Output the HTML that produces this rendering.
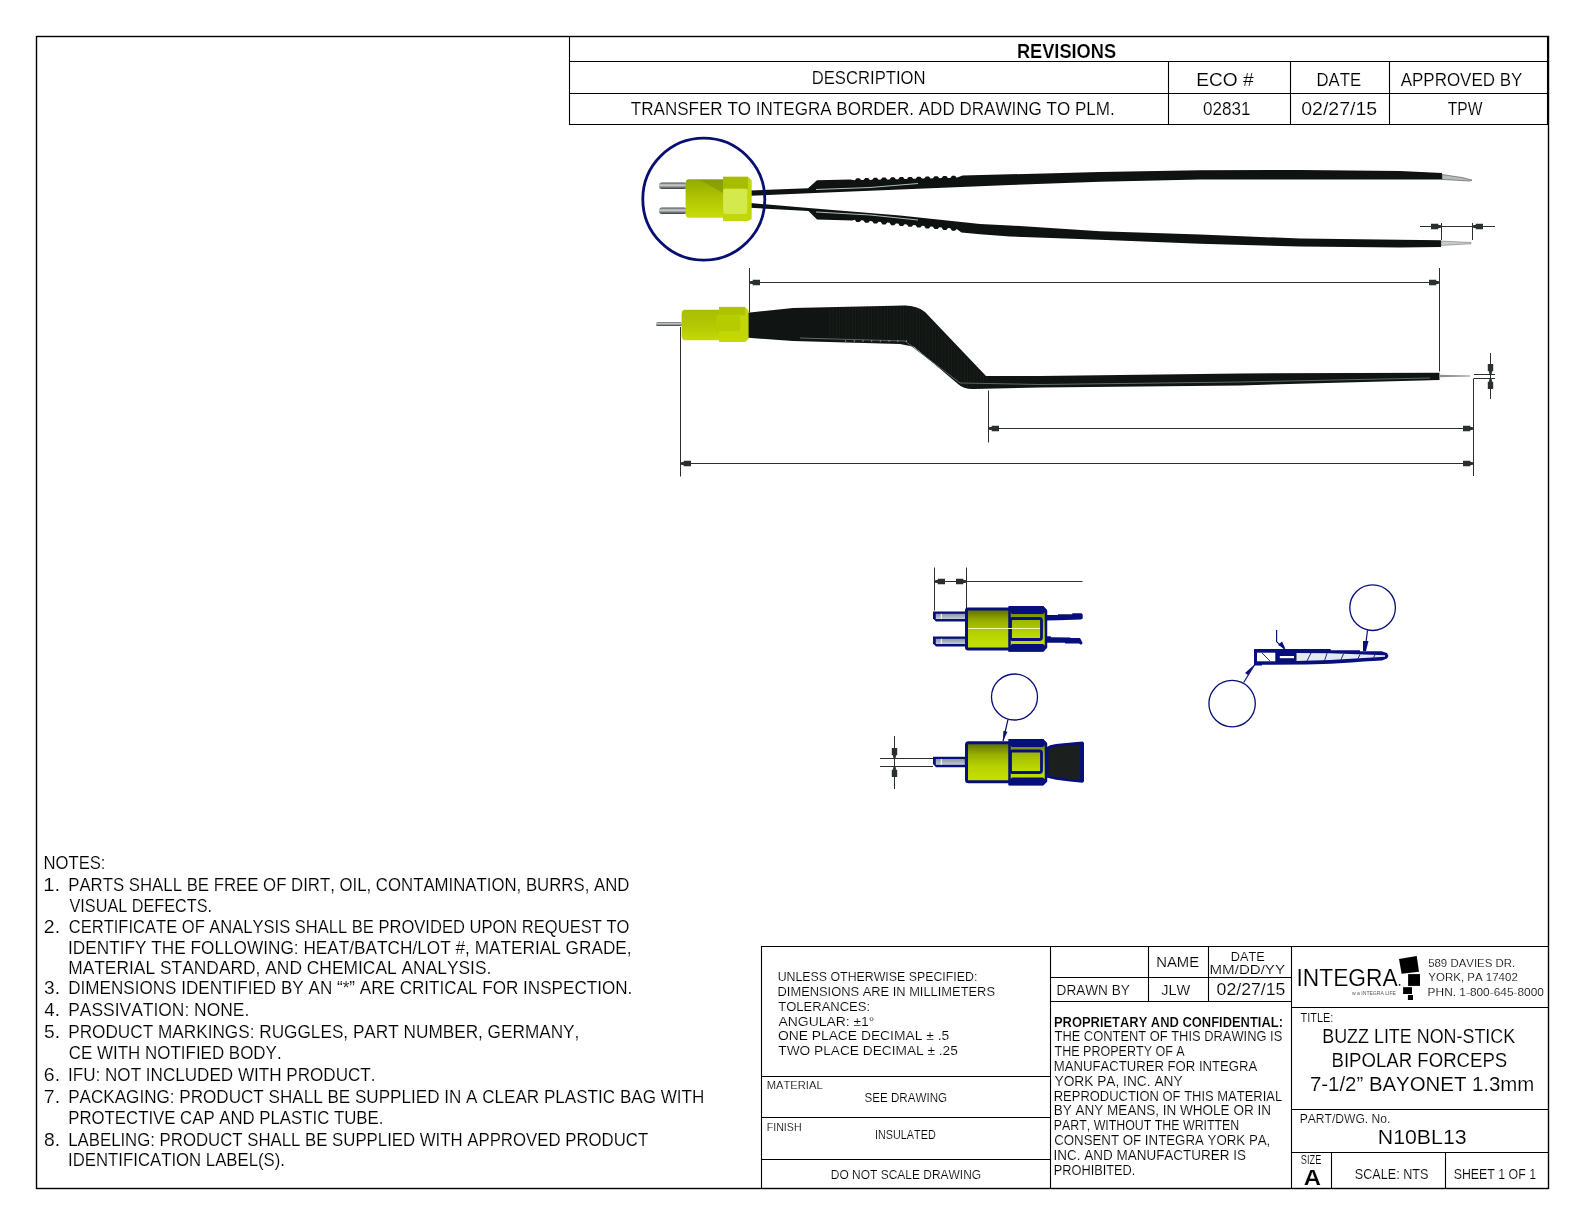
<!DOCTYPE html>
<html><head><meta charset="utf-8"><title>N10BL13</title>
<style>
html,body{margin:0;padding:0;background:#fff;}
body{width:1584px;height:1224px;overflow:hidden;}
svg{display:block;will-change:transform;}
text{font-family:"Liberation Sans",sans-serif;font-kerning:none;stroke:#fff;stroke-width:0.15px;}
</style></head>
<body>
<svg width="1584" height="1224" viewBox="0 0 1584 1224">
<rect x="0" y="0" width="1584" height="1224" fill="#fff"/>
<defs>
  <linearGradient id="ygrad" x1="0" y1="0" x2="0" y2="1">
    <stop offset="0" stop-color="#5c6c00"/>
    <stop offset="0.3" stop-color="#98b000"/>
    <stop offset="0.6" stop-color="#b6d200"/>
    <stop offset="1" stop-color="#c6e200"/>
  </linearGradient>
  <linearGradient id="ygrad2" x1="0" y1="0" x2="0" y2="1">
    <stop offset="0" stop-color="#98b400"/>
    <stop offset="1" stop-color="#c4e000"/>
  </linearGradient>
  <linearGradient id="pgrad" x1="0" y1="0" x2="0" y2="1">
    <stop offset="0" stop-color="#8e96a0"/>
    <stop offset="1" stop-color="#c3cbd8"/>
  </linearGradient>
  <linearGradient id="photoY" x1="0" y1="0" x2="0" y2="1">
    <stop offset="0" stop-color="#93aa00"/>
    <stop offset="0.5" stop-color="#b0c604"/>
    <stop offset="1" stop-color="#c8dc08"/>
  </linearGradient>
  <linearGradient id="photoY2" x1="0" y1="0" x2="0" y2="1">
    <stop offset="0" stop-color="#a8be02"/>
    <stop offset="0.5" stop-color="#b2c802"/>
    <stop offset="1" stop-color="#c4da06"/>
  </linearGradient>
  <linearGradient id="metal" x1="0" y1="0" x2="0" y2="1">
    <stop offset="0" stop-color="#4a4e4e"/>
    <stop offset="0.4" stop-color="#d0d4d4"/>
    <stop offset="1" stop-color="#333838"/>
  </linearGradient>
</defs>

<!-- ===== TOP VIEW (photo) ===== -->
<g id="topview">
  <!-- pins -->
  <rect x="659" y="182.5" width="28" height="6.5" rx="3" fill="url(#metal)"/>
  <rect x="659" y="207.5" width="28" height="6.5" rx="3" fill="url(#metal)"/>
  <!-- wires/arms -->
  <path fill="#0e1211" d="M750.0 190.5 L808.0 188.2 L817.0 180.3 L850.0 179.6 L854.8 180.3 L856.5 178.2 L859.5 178.2 L861.2 180.1 L863.5 180.1 L865.2 178.0 L868.2 178.0 L869.9 179.9 L872.2 179.8 L873.9 177.8 L876.9 177.8 L878.6 179.7 L880.8 179.6 L882.5 177.5 L885.5 177.5 L887.2 179.5 L889.5 179.4 L891.2 177.3 L894.2 177.3 L895.9 179.3 L898.2 179.2 L899.9 177.1 L902.9 177.1 L904.6 179.0 L906.9 179.0 L908.6 176.9 L911.6 176.9 L913.3 178.8 L915.6 178.8 L917.3 176.7 L920.3 176.7 L922.0 178.6 L924.2 178.5 L925.9 176.5 L928.9 176.5 L930.6 178.4 L932.9 178.3 L934.6 176.2 L937.6 176.2 L939.3 178.2 L941.6 178.1 L943.3 176.0 L946.3 176.0 L948.0 177.9 L950.3 177.9 L952.0 175.8 L955.0 175.8 L956.7 177.7 L962.5 175.6 L1010.0 174.3 L1100.0 172.1 L1200.0 170.3 L1300.0 170.0 L1400.0 171.0 L1442.0 173.0 L1442.0 179.6 L1300.0 179.5 L1200.0 179.5 L1100.0 181.7 L1010.0 185.0 L900.0 189.5 L815.0 193.0 L750.0 195.8 Z"/>
  <path fill="#0e1211" d="M750.0 203.0 L808.5 208.0 L900.0 215.5 L980.0 224.0 L1010.0 225.4 L1100.0 231.3 L1200.0 234.6 L1300.0 238.5 L1400.0 239.8 L1441.0 240.3 L1441.0 246.9 L1400.0 247.5 L1300.0 246.5 L1200.0 243.8 L1100.0 239.8 L1010.0 236.5 L980.0 234.3 L961.4 232.5 L956.7 228.9 L955.0 230.7 L952.0 230.7 L950.3 228.3 L948.0 228.1 L946.3 229.9 L943.3 229.9 L941.6 227.5 L939.3 227.3 L937.6 229.1 L934.6 229.1 L932.9 226.8 L930.6 226.5 L928.9 228.4 L925.9 228.4 L924.2 226.0 L922.0 225.8 L920.3 227.6 L917.3 227.6 L915.6 225.2 L913.3 225.0 L911.6 226.8 L908.6 226.8 L906.9 224.4 L904.6 224.2 L902.9 226.0 L899.9 226.0 L898.2 223.6 L895.9 223.4 L894.2 225.2 L891.2 225.2 L889.5 222.8 L887.2 222.6 L885.5 224.4 L882.5 224.4 L880.8 222.0 L878.6 221.8 L876.9 223.6 L873.9 223.6 L872.2 221.2 L869.9 221.0 L868.2 222.8 L865.2 222.8 L863.5 220.4 L861.2 220.2 L859.5 222.0 L856.5 222.0 L854.8 219.7 L852.3 220.6 L817.0 219.4 L808.5 210.9 L750.0 207.8 Z"/>
  <path fill="none" stroke="#c9d0cc" stroke-width="0.9" d="M816 189.5 L870 187.5 L918 183.5"/>
  <path fill="none" stroke="#c9d0cc" stroke-width="0.9" d="M816 212 L870 215 L918 220"/>
  <!-- tips -->
  <path fill="#b8bcbc" stroke="#333" stroke-width="0.5" d="M1442 174.5 L1462 177.5 L1472 180 L1470 181 L1442 179.5 Z"/>
  <path fill="#c8cccc" stroke="#444" stroke-width="0.4" d="M1441 241 L1471 242.5 L1471 243.8 L1441 245.5 Z"/>
  <!-- connector -->
  <path fill="url(#photoY)" d="M689 179.2 L724 179.2 L724 217.7 L689 217.7 Q685.6 217.7 685.6 214 L685.6 183 Q685.6 179.2 689 179.2 Z"/>
  <path fill="#7f8f06" opacity="0.55" d="M700 180 L723 180 L723 193 Z"/>
  <path fill="#c2d806" d="M723 176.8 L748 176.8 L751.7 180.5 L751.7 219 L748 221 L723 221 Z"/>
  <rect x="723" y="176.8" width="25" height="11.9" fill="#a6bc00"/>
  <rect x="723.2" y="188.7" width="24" height="25.3" rx="2" fill="#d4e94c"/>
  <!-- detail circle -->
  <circle cx="703.8" cy="199.2" r="61" fill="none" stroke="#071070" stroke-width="2.8"/>
</g>

<!-- ===== SIDE VIEW (photo) ===== -->
<g id="sideview">
  <rect x="656" y="322.3" width="26" height="3.6" rx="1.5" fill="url(#metal)"/>
  <path fill="#101412" d="M745 313 L793 308 L905 305.5 Q917 305.5 925 312 L986 376 L1040 376 L1240 373.4 L1439.5 372.7 L1439.5 380 L1240 385.4 L1040 387.5 L973 389 Q963 389 958 384 L914 346.8 L900 344 L793 341 L745 337.5 Z"/>
  <path fill="none" stroke="#5d6b63" stroke-width="1" d="M800 338 L905 341 L960 383 L1040 384.5 L1240 382 L1430 378"/>
  <clipPath id="hclip"><path d="M745 313 L793 308 L905 305.5 Q917 305.5 925 312 L986 376 L1040 376 L1240 373.4 L1439.5 372.7 L1439.5 380 L1240 385.4 L1040 387.5 L973 389 Q963 389 958 384 L914 346.8 L900 344 L793 341 L745 337.5 Z"/></clipPath>
  <g clip-path="url(#hclip)" stroke="#2f3833" stroke-width="0.6" opacity="0.55"><line x1="830.0" y1="300" x2="830.0" y2="392"/><line x1="833.2" y1="300" x2="833.2" y2="392"/><line x1="836.4" y1="300" x2="836.4" y2="392"/><line x1="839.6" y1="300" x2="839.6" y2="392"/><line x1="842.8" y1="300" x2="842.8" y2="392"/><line x1="846.0" y1="300" x2="846.0" y2="392"/><line x1="849.2" y1="300" x2="849.2" y2="392"/><line x1="852.4" y1="300" x2="852.4" y2="392"/><line x1="855.6" y1="300" x2="855.6" y2="392"/><line x1="858.8" y1="300" x2="858.8" y2="392"/><line x1="862.0" y1="300" x2="862.0" y2="392"/><line x1="865.2" y1="300" x2="865.2" y2="392"/><line x1="868.4" y1="300" x2="868.4" y2="392"/><line x1="871.6" y1="300" x2="871.6" y2="392"/><line x1="874.8" y1="300" x2="874.8" y2="392"/><line x1="878.0" y1="300" x2="878.0" y2="392"/><line x1="881.2" y1="300" x2="881.2" y2="392"/><line x1="884.4" y1="300" x2="884.4" y2="392"/><line x1="887.6" y1="300" x2="887.6" y2="392"/><line x1="890.8" y1="300" x2="890.8" y2="392"/><line x1="894.0" y1="300" x2="894.0" y2="392"/><line x1="897.2" y1="300" x2="897.2" y2="392"/><line x1="900.4" y1="300" x2="900.4" y2="392"/><line x1="903.6" y1="300" x2="903.6" y2="392"/><line x1="906.8" y1="300" x2="906.8" y2="392"/><line x1="910.0" y1="300" x2="910.0" y2="392"/><line x1="913.2" y1="300" x2="913.2" y2="392"/><line x1="916.4" y1="300" x2="916.4" y2="392"/><line x1="919.6" y1="300" x2="919.6" y2="392"/><line x1="922.8" y1="300" x2="922.8" y2="392"/><line x1="926.0" y1="300" x2="926.0" y2="392"/><line x1="929.2" y1="300" x2="929.2" y2="392"/><line x1="932.4" y1="300" x2="932.4" y2="392"/><line x1="935.6" y1="300" x2="935.6" y2="392"/><line x1="938.8" y1="300" x2="938.8" y2="392"/><line x1="942.0" y1="300" x2="942.0" y2="392"/><line x1="945.2" y1="300" x2="945.2" y2="392"/><line x1="948.4" y1="300" x2="948.4" y2="392"/><line x1="951.6" y1="300" x2="951.6" y2="392"/><line x1="954.8" y1="300" x2="954.8" y2="392"/><line x1="958.0" y1="300" x2="958.0" y2="392"/><line x1="961.2" y1="300" x2="961.2" y2="392"/><line x1="964.4" y1="300" x2="964.4" y2="392"/><line x1="967.6" y1="300" x2="967.6" y2="392"/><line x1="970.8" y1="300" x2="970.8" y2="392"/><line x1="974.0" y1="300" x2="974.0" y2="392"/><line x1="977.2" y1="300" x2="977.2" y2="392"/><line x1="980.4" y1="300" x2="980.4" y2="392"/><line x1="983.6" y1="300" x2="983.6" y2="392"/><line x1="986.8" y1="300" x2="986.8" y2="392"/></g>
  <g fill="#9aa59f" opacity="0.8"><rect x="845.0" y="340.2" width="1.2" height="1.6"/><rect x="853.7" y="340.2" width="1.2" height="1.6"/><rect x="862.4" y="340.2" width="1.2" height="1.6"/><rect x="871.1" y="340.2" width="1.2" height="1.6"/><rect x="879.8" y="340.2" width="1.2" height="1.6"/><rect x="888.5" y="340.2" width="1.2" height="1.6"/><rect x="897.2" y="340.2" width="1.2" height="1.6"/><rect x="905.9" y="340.2" width="1.2" height="1.6"/></g>
  <path fill="#8f9491" d="M1439.5 374.8 L1470 375.6 L1470 376.4 L1439.5 377.2 Z"/>
  <path fill="url(#photoY2)" d="M685 309.7 L721 309.7 L721 340.3 L685 340.3 Q681.6 340.3 681.6 335 L681.6 315 Q681.6 309.7 685 309.7 Z"/>
  <path fill="#c2d804" d="M719.1 306.9 L745 306.9 L748.6 310.5 L748.6 339 L745 342 L719.1 342 Z"/>
  <rect x="719.1" y="306.9" width="26" height="8.4" fill="#aec400"/>
  <rect x="716" y="315.6" width="24.3" height="15.7" rx="2" fill="#b4cc00"/>
</g>

<!-- ===== DIMENSIONS ===== -->
<g stroke="#2a302e" stroke-width="1" fill="none">
  <line x1="749.5" y1="268" x2="749.5" y2="312.5"/>
  <line x1="749.5" y1="282.5" x2="1439.5" y2="282.5"/>
  <line x1="1439.5" y1="268" x2="1439.5" y2="371.5"/>
  <line x1="988.5" y1="390.5" x2="988.5" y2="442.5"/>
  <line x1="988.5" y1="428.5" x2="1473.5" y2="428.5"/>
  <line x1="680.5" y1="327" x2="680.5" y2="476.5"/>
  <line x1="680.5" y1="463.5" x2="1473.5" y2="463.5"/>
  <line x1="1473.5" y1="378.5" x2="1473.5" y2="476"/>
  <line x1="1474" y1="374.5" x2="1495" y2="374.5"/>
  <line x1="1474" y1="378.5" x2="1495" y2="378.5"/>
  <line x1="1490.5" y1="353" x2="1490.5" y2="399"/>
  <line x1="1420" y1="226.5" x2="1495" y2="226.5"/>
  <line x1="1441.5" y1="223" x2="1441.5" y2="240"/>
  <line x1="1472.5" y1="223" x2="1472.5" y2="240"/>
  <line x1="934.5" y1="567.5" x2="934.5" y2="610.5"/>
  <line x1="966.5" y1="567.5" x2="966.5" y2="608.5"/>
  <line x1="934.5" y1="581.5" x2="1082.5" y2="581.5"/>
  <line x1="880" y1="758.5" x2="933" y2="758.5"/>
  <line x1="880" y1="766.5" x2="933" y2="766.5"/>
  <line x1="894.5" y1="736" x2="894.5" y2="789"/>
</g>
<g fill="#2a302e">
  <path d="M749.50 282.00 L750.70 281.10 L752.70 281.10 L752.70 279.80 L760.00 279.80 L760.00 285.20 L752.70 285.20 L752.70 283.90 L750.70 283.90 L749.50 283.00 Z"/>
  <path d="M1439.50 282.00 L1438.30 281.10 L1436.30 281.10 L1436.30 279.80 L1429.00 279.80 L1429.00 285.20 L1436.30 285.20 L1436.30 283.90 L1438.30 283.90 L1439.50 283.00 Z"/>
  <path d="M988.50 428.00 L989.70 427.10 L991.70 427.10 L991.70 425.80 L999.00 425.80 L999.00 431.20 L991.70 431.20 L991.70 429.90 L989.70 429.90 L988.50 429.00 Z"/>
  <path d="M1473.50 428.00 L1472.30 427.10 L1470.30 427.10 L1470.30 425.80 L1463.00 425.80 L1463.00 431.20 L1470.30 431.20 L1470.30 429.90 L1472.30 429.90 L1473.50 429.00 Z"/>
  <path d="M680.50 463.00 L681.70 462.10 L683.70 462.10 L683.70 460.80 L691.00 460.80 L691.00 466.20 L683.70 466.20 L683.70 464.90 L681.70 464.90 L680.50 464.00 Z"/>
  <path d="M1473.50 463.00 L1472.30 462.10 L1470.30 462.10 L1470.30 460.80 L1463.00 460.80 L1463.00 466.20 L1470.30 466.20 L1470.30 464.90 L1472.30 464.90 L1473.50 464.00 Z"/>
  <path d="M1490.00 374.50 L1489.10 373.30 L1489.10 371.30 L1487.80 371.30 L1487.80 364.00 L1493.20 364.00 L1493.20 371.30 L1491.90 371.30 L1491.90 373.30 L1491.00 374.50 Z"/>
  <path d="M1490.00 378.50 L1489.10 379.70 L1489.10 381.70 L1487.80 381.70 L1487.80 389.00 L1493.20 389.00 L1493.20 381.70 L1491.90 381.70 L1491.90 379.70 L1491.00 378.50 Z"/>
  <path d="M1441.50 226.00 L1440.30 225.10 L1438.30 225.10 L1438.30 223.80 L1431.00 223.80 L1431.00 229.20 L1438.30 229.20 L1438.30 227.90 L1440.30 227.90 L1441.50 227.00 Z"/>
  <path d="M1472.50 226.00 L1473.70 225.10 L1475.70 225.10 L1475.70 223.80 L1483.00 223.80 L1483.00 229.20 L1475.70 229.20 L1475.70 227.90 L1473.70 227.90 L1472.50 227.00 Z"/>
  <path d="M934.50 581.00 L935.70 580.10 L937.70 580.10 L937.70 578.80 L945.00 578.80 L945.00 584.20 L937.70 584.20 L937.70 582.90 L935.70 582.90 L934.50 582.00 Z"/>
  <path d="M966.50 581.00 L965.30 580.10 L963.30 580.10 L963.30 578.80 L956.00 578.80 L956.00 584.20 L963.30 584.20 L963.30 582.90 L965.30 582.90 L966.50 582.00 Z"/>
  <path d="M894.00 758.50 L893.10 757.30 L893.10 755.30 L891.80 755.30 L891.80 748.00 L897.20 748.00 L897.20 755.30 L895.90 755.30 L895.90 757.30 L895.00 758.50 Z"/>
  <path d="M894.00 766.50 L893.10 767.70 L893.10 769.70 L891.80 769.70 L891.80 777.00 L897.20 777.00 L897.20 769.70 L895.90 769.70 L895.90 767.70 L895.00 766.50 Z"/>
</g>

<!-- ===== CONNECTOR DETAIL (top) ===== -->
<g id="conn1">
  <path fill="#07107a" d="M933 611.5 L967 611.5 L967 621.5 L936 621.5 L933 618.5 Z"/>
  <rect x="935.8" y="613.8" width="29.2" height="5.2" fill="url(#pgrad)"/>
  <rect x="940.8" y="613.8" width="1" height="5.2" fill="#fff"/>
  <path fill="#07107a" d="M933 636.5 L967 636.5 L967 646.5 L936 646.5 L933 643.5 Z"/>
  <rect x="935.8" y="638.8" width="29.2" height="5.2" fill="url(#pgrad)"/>
  <rect x="940.8" y="638.8" width="1" height="5.2" fill="#fff"/>
  <!-- body -->
  <rect x="966.5" y="609" width="44" height="40" fill="url(#ygrad)" stroke="#07107a" stroke-width="3" rx="1.5"/>
  <!-- hex -->
  <path fill="url(#ygrad)" stroke="#07107a" stroke-width="2.5" d="M1009.5 607.5 L1043 607.5 L1046 611 L1046 647 L1043 650.5 L1009.5 650.5 Z"/>
  <path fill="#07107a" d="M1009 606 L1043 606 L1047 610 L1043 614 L1012 614 L1009 611 Z"/>
  <path fill="#07107a" d="M1009 651.6 L1043 651.6 L1047 647.6 L1043 644 L1012 644 L1009 647 Z"/>
  <rect x="1010.5" y="618.5" width="31" height="21" fill="url(#ygrad2)" stroke="#07107a" stroke-width="2.8" rx="2"/>
  <line x1="968" y1="628.5" x2="1040" y2="628.5" stroke="#f6f6b0" stroke-width="1"/>
  <!-- wires -->
  <path fill="#07107a" d="M1046 615 L1058 615 L1058 614.2 L1072.3 614.2 L1072.3 613.2 L1081.5 613.2 L1082.7 614.5 L1082.7 618.5 L1080.8 619.5 L1058.8 620.3 L1046 620.5 Z"/>
  <path fill="#07107a" d="M1046 636.2 L1050.8 636.2 L1050.8 637.2 L1070.5 637.5 L1070.5 638.1 L1080 638.1 L1082.7 643.3 L1081 644.8 L1079 643.6 L1065 643.6 L1065 642.8 L1046 642.8 Z"/>
</g>

<!-- ===== CONNECTOR DETAIL (bottom) ===== -->
<g id="conn2">
  <path fill="#07107a" d="M933 756.8 L966 756.8 L966 767.3 L936 767.3 L933 764 Z"/>
  <rect x="935.8" y="759" width="29" height="5.8" fill="url(#pgrad)"/>
  <rect x="940.8" y="759" width="1" height="5.8" fill="#fff"/>
  <rect x="966.5" y="742.8" width="44" height="39" fill="url(#ygrad)" stroke="#07107a" stroke-width="3" rx="2"/>
  <path fill="url(#ygrad)" stroke="#07107a" stroke-width="2.5" d="M1009.5 740.5 L1043 740.5 L1046 744 L1046 781 L1043 784 L1009.5 784 Z"/>
  <path fill="#07107a" d="M1009 739 L1043 739 L1047 743 L1043 747 L1012 747 L1009 744 Z"/>
  <path fill="#07107a" d="M1009 785.4 L1043 785.4 L1047 781.4 L1043 777.5 L1012 777.5 L1009 780.5 Z"/>
  <rect x="1010.5" y="751" width="31" height="21.5" fill="url(#ygrad2)" stroke="#07107a" stroke-width="2.8" rx="2"/>
  <path fill="#07107a" d="M1046.2 747.5 L1050 745.3 L1056 744 L1074 742.2 L1082.8 741.6 L1084 743 L1084 781.5 L1082.5 782.8 L1070 781.5 L1056 779.8 L1046.2 777.5 Z"/>
  <path fill="#1b1f1d" d="M1048.5 749.2 L1051 747.8 L1057 746.5 L1074 744.8 L1080 744.5 L1080 779.8 L1070 779 L1057 777.2 L1048.5 775.5 Z"/>
  <!-- bubble -->
  <circle cx="1014.5" cy="697" r="23" fill="none" stroke="#07107a" stroke-width="1.3"/>
  <path fill="none" stroke="#07107a" stroke-width="1.2" d="M1008 719.5 L1003 741"/>
  <path fill="#07107a" d="M1003 741.5 L1003.4 730.8 L1007.4 731.8 Z"/>
</g>

<!-- ===== CROSS SECTION ===== -->
<g id="xsec">
  <path fill="#07107a" d="M1254 649 L1330.7 649 L1330.7 650.2 L1360 650.2 L1360 651.2 L1381.6 651.2 L1387 653 L1388.5 656 L1387 658.5 L1382 660.5 L1363.7 661.5 L1351.7 662.5 L1330.7 663.8 L1306.6 664.5 L1262 664.8 L1262 665.5 L1254 665.5 Z"/>
  <path fill="#fff" d="M1257 652.7 L1275.3 652.7 L1275.3 661.3 L1257 661.3 Z"/>
  <path fill="#e4e9f1" d="M1296.5 653 L1330 653.2 L1385 655.2 L1385 656.8 L1330 660 L1296.5 661 Z"/>
  <path fill="#fff" d="M1279.8 656 L1294 656 L1294 658.2 L1279.8 658.2 Z"/>
  <g stroke="#07107a" stroke-width="0.9" fill="none">
    <line x1="1262" y1="653" x2="1270" y2="661"/>
    <line x1="1307" y1="661" x2="1311" y2="653"/>
    <line x1="1324.6" y1="660.5" x2="1327" y2="653.3"/>
    <line x1="1341" y1="659.5" x2="1343.5" y2="654"/>
    <line x1="1358" y1="658.5" x2="1360" y2="654.5"/>
    <line x1="1373.5" y1="657.5" x2="1375" y2="655"/>
  </g>
  <circle cx="1372.6" cy="607.7" r="22.8" fill="none" stroke="#07107a" stroke-width="1.3"/>
  <circle cx="1232.1" cy="703.6" r="23.2" fill="none" stroke="#07107a" stroke-width="1.3"/>
  <path fill="none" stroke="#07107a" stroke-width="1.2" d="M1367.5 630.5 L1365 650"/>
  <path fill="#07107a" d="M1363 641 L1368.5 641 L1366 651 L1363 651 Z"/>
  <path fill="none" stroke="#07107a" stroke-width="1.2" d="M1276.6 630 L1276.6 641.6 L1284.5 649"/>
  <path fill="#07107a" d="M1278 645 L1282 641.5 L1285.5 649 Z"/>
  <path fill="none" stroke="#07107a" stroke-width="1.2" d="M1243.7 682.5 L1254.5 665"/>
  <path fill="#07107a" d="M1254.5 664.5 L1248 675 L1245 673 Z"/>
</g>

<!-- ===== LOGO ===== -->
<g fill="#000">
  <path d="M1399 959.1 L1416.7 956.1 L1419 971.8 L1401.6 973.8 Z"/>
  <rect x="1408.1" y="974.1" width="11.9" height="11.8"/>
  <rect x="1403.1" y="987.2" width="8.9" height="6.8"/>
  <rect x="1407.9" y="995" width="5.1" height="5"/>
  <circle cx="1399.6" cy="984.8" r="0.9"/>
</g>
<text x="1352" y="995" font-size="4.6" textLength="44" lengthAdjust="spacingAndGlyphs" fill="#555" style="stroke:none">w  a  INTEGRA  LIFE</text>

<rect x="36.5" y="36.5" width="1512" height="1152" fill="none" stroke="#000" stroke-width="1.4"/>
<line x1="569.5" y1="61.5" x2="1548" y2="61.5" stroke="#000" stroke-width="1.1"/>
<line x1="569.5" y1="93.5" x2="1548" y2="93.5" stroke="#000" stroke-width="1.1"/>
<line x1="569.5" y1="124.5" x2="1548" y2="124.5" stroke="#000" stroke-width="1.1"/>
<line x1="569.5" y1="36" x2="569.5" y2="125" stroke="#000" stroke-width="1.1"/>
<line x1="1547.5" y1="36" x2="1547.5" y2="125" stroke="#000" stroke-width="1.1"/>
<line x1="1168.5" y1="61.5" x2="1168.5" y2="124.5" stroke="#000" stroke-width="1.1"/>
<line x1="1290.5" y1="61.5" x2="1290.5" y2="124.5" stroke="#000" stroke-width="1.1"/>
<line x1="1389.5" y1="61.5" x2="1389.5" y2="124.5" stroke="#000" stroke-width="1.1"/>
<line x1="761.5" y1="946.5" x2="1548" y2="946.5" stroke="#000" stroke-width="1.1"/>
<line x1="761.5" y1="946" x2="761.5" y2="1189" stroke="#000" stroke-width="1.1"/>
<line x1="1050.5" y1="946" x2="1050.5" y2="1189" stroke="#000" stroke-width="1.1"/>
<line x1="1291.5" y1="946" x2="1291.5" y2="1189" stroke="#000" stroke-width="1.1"/>
<line x1="761.5" y1="1076.5" x2="1050.5" y2="1076.5" stroke="#000" stroke-width="1.1"/>
<line x1="761.5" y1="1117.5" x2="1050.5" y2="1117.5" stroke="#000" stroke-width="1.1"/>
<line x1="761.5" y1="1159.5" x2="1050.5" y2="1159.5" stroke="#000" stroke-width="1.1"/>
<line x1="1050.5" y1="977.5" x2="1291.5" y2="977.5" stroke="#000" stroke-width="1.1"/>
<line x1="1050.5" y1="1001.5" x2="1291.5" y2="1001.5" stroke="#000" stroke-width="1.1"/>
<line x1="1148.5" y1="946.5" x2="1148.5" y2="1001.5" stroke="#000" stroke-width="1.1"/>
<line x1="1208.5" y1="946.5" x2="1208.5" y2="1001.5" stroke="#000" stroke-width="1.1"/>
<line x1="1291.5" y1="1007.5" x2="1548" y2="1007.5" stroke="#000" stroke-width="1.1"/>
<line x1="1291.5" y1="1109.5" x2="1548" y2="1109.5" stroke="#000" stroke-width="1.1"/>
<line x1="1291.5" y1="1152.5" x2="1548" y2="1152.5" stroke="#000" stroke-width="1.1"/>
<line x1="1331.5" y1="1152.5" x2="1331.5" y2="1188.5" stroke="#000" stroke-width="1.1"/>
<line x1="1445.5" y1="1152.5" x2="1445.5" y2="1188.5" stroke="#000" stroke-width="1.1"/>
<text x="1016.88" y="57.70" font-size="20.20" textLength="99.23" lengthAdjust="spacingAndGlyphs" font-weight="bold" fill="#000">REVISIONS</text>
<text x="811.73" y="83.70" font-size="18.75" textLength="113.82" lengthAdjust="spacingAndGlyphs" fill="#000">DESCRIPTION</text>
<text x="1196.33" y="86.10" font-size="18.90" textLength="57.36" lengthAdjust="spacingAndGlyphs" fill="#000">ECO #</text>
<text x="1316.53" y="86.10" font-size="18.90" textLength="44.59" lengthAdjust="spacingAndGlyphs" fill="#000">DATE</text>
<text x="1400.67" y="85.90" font-size="18.60" textLength="121.71" lengthAdjust="spacingAndGlyphs" fill="#000">APPROVED BY</text>
<text x="630.82" y="115.00" font-size="18.60" textLength="483.94" lengthAdjust="spacingAndGlyphs" fill="#000">TRANSFER TO INTEGRA BORDER. ADD DRAWING TO PLM.</text>
<text x="1202.93" y="115.00" font-size="18.17" textLength="47.50" lengthAdjust="spacingAndGlyphs" fill="#000">02831</text>
<text x="1301.24" y="115.00" font-size="18.17" textLength="75.88" lengthAdjust="spacingAndGlyphs" fill="#000">02/27/15</text>
<text x="1447.85" y="114.80" font-size="18.17" textLength="34.50" lengthAdjust="spacingAndGlyphs" fill="#000">TPW</text>
<text x="43.43" y="868.90" font-size="18.17" textLength="62.09" lengthAdjust="spacingAndGlyphs" fill="#000">NOTES:</text>
<text x="43.26" y="891.00" font-size="18.17" textLength="16.89" lengthAdjust="spacingAndGlyphs" fill="#000">1.</text>
<text x="68.22" y="891.00" font-size="18.17" textLength="561.18" lengthAdjust="spacingAndGlyphs" fill="#000">PARTS SHALL BE FREE OF DIRT, OIL, CONTAMINATION, BURRS, AND</text>
<text x="69.53" y="911.70" font-size="18.17" textLength="142.45" lengthAdjust="spacingAndGlyphs" fill="#000">VISUAL DEFECTS.</text>
<text x="43.82" y="933.40" font-size="18.17" textLength="16.26" lengthAdjust="spacingAndGlyphs" fill="#000">2.</text>
<text x="68.76" y="933.40" font-size="18.17" textLength="560.63" lengthAdjust="spacingAndGlyphs" fill="#000">CERTIFICATE OF ANALYSIS SHALL BE PROVIDED UPON REQUEST TO</text>
<text x="68.01" y="954.40" font-size="18.17" textLength="563.64" lengthAdjust="spacingAndGlyphs" fill="#000">IDENTIFY THE FOLLOWING: HEAT/BATCH/LOT #, MATERIAL GRADE,</text>
<text x="68.17" y="974.30" font-size="18.17" textLength="423.21" lengthAdjust="spacingAndGlyphs" fill="#000">MATERIAL STANDARD, AND CHEMICAL ANALYSIS.</text>
<text x="44.07" y="994.40" font-size="18.17" textLength="15.98" lengthAdjust="spacingAndGlyphs" fill="#000">3.</text>
<text x="68.20" y="994.40" font-size="18.17" textLength="564.16" lengthAdjust="spacingAndGlyphs" fill="#000">DIMENSIONS IDENTIFIED BY AN “*” ARE CRITICAL FOR INSPECTION.</text>
<text x="44.37" y="1015.90" font-size="18.17" textLength="15.64" lengthAdjust="spacingAndGlyphs" fill="#000">4.</text>
<text x="68.17" y="1015.90" font-size="18.17" textLength="181.12" lengthAdjust="spacingAndGlyphs" fill="#000">PASSIVATION: NONE.</text>
<text x="44.03" y="1037.50" font-size="18.17" textLength="16.02" lengthAdjust="spacingAndGlyphs" fill="#000">5.</text>
<text x="68.19" y="1037.50" font-size="18.17" textLength="511.16" lengthAdjust="spacingAndGlyphs" fill="#000">PRODUCT MARKINGS: RUGGLES, PART NUMBER, GERMANY,</text>
<text x="68.74" y="1058.50" font-size="18.17" textLength="212.91" lengthAdjust="spacingAndGlyphs" fill="#000">CE WITH NOTIFIED BODY.</text>
<text x="43.81" y="1080.60" font-size="18.17" textLength="16.27" lengthAdjust="spacingAndGlyphs" fill="#000">6.</text>
<text x="68.02" y="1080.60" font-size="18.17" textLength="307.54" lengthAdjust="spacingAndGlyphs" fill="#000">IFU: NOT INCLUDED WITH PRODUCT.</text>
<text x="43.80" y="1102.70" font-size="18.17" textLength="16.28" lengthAdjust="spacingAndGlyphs" fill="#000">7.</text>
<text x="68.20" y="1102.70" font-size="18.17" textLength="636.20" lengthAdjust="spacingAndGlyphs" fill="#000">PACKAGING: PRODUCT SHALL BE SUPPLIED IN A CLEAR PLASTIC BAG WITH</text>
<text x="68.22" y="1123.50" font-size="18.17" textLength="315.11" lengthAdjust="spacingAndGlyphs" fill="#000">PROTECTIVE CAP AND PLASTIC TUBE.</text>
<text x="43.96" y="1145.60" font-size="18.17" textLength="16.10" lengthAdjust="spacingAndGlyphs" fill="#000">8.</text>
<text x="68.22" y="1145.60" font-size="18.17" textLength="579.96" lengthAdjust="spacingAndGlyphs" fill="#000">LABELING: PRODUCT SHALL BE SUPPLIED WITH APPROVED PRODUCT</text>
<text x="68.05" y="1166.10" font-size="18.17" textLength="216.98" lengthAdjust="spacingAndGlyphs" fill="#000">IDENTIFICATION LABEL(S).</text>
<text x="777.65" y="980.80" font-size="13.08" textLength="199.68" lengthAdjust="spacingAndGlyphs" fill="#000">UNLESS OTHERWISE SPECIFIED:</text>
<text x="777.54" y="995.50" font-size="13.08" textLength="217.45" lengthAdjust="spacingAndGlyphs" fill="#000">DIMENSIONS ARE IN MILLIMETERS</text>
<text x="778.31" y="1010.50" font-size="13.08" textLength="91.78" lengthAdjust="spacingAndGlyphs" fill="#000">TOLERANCES:</text>
<text x="778.57" y="1025.50" font-size="13.08" textLength="95.86" lengthAdjust="spacingAndGlyphs" fill="#000">ANGULAR: ±1°</text>
<text x="777.95" y="1039.70" font-size="13.08" textLength="171.24" lengthAdjust="spacingAndGlyphs" fill="#000">ONE PLACE DECIMAL ± .5</text>
<text x="778.29" y="1054.70" font-size="13.08" textLength="179.58" lengthAdjust="spacingAndGlyphs" fill="#000">TWO PLACE DECIMAL ± .25</text>
<text x="766.68" y="1088.90" font-size="11.63" textLength="55.99" lengthAdjust="spacingAndGlyphs" fill="#000">MATERIAL</text>
<text x="864.47" y="1101.90" font-size="12.35" textLength="82.60" lengthAdjust="spacingAndGlyphs" fill="#000">SEE DRAWING</text>
<text x="766.73" y="1130.80" font-size="11.63" textLength="34.84" lengthAdjust="spacingAndGlyphs" fill="#000">FINISH</text>
<text x="875.00" y="1139.00" font-size="12.35" textLength="60.72" lengthAdjust="spacingAndGlyphs" fill="#000">INSULATED</text>
<text x="830.82" y="1178.90" font-size="12.65" textLength="150.28" lengthAdjust="spacingAndGlyphs" fill="#000">DO NOT SCALE DRAWING</text>
<text x="1156.18" y="967.10" font-size="13.81" textLength="42.96" lengthAdjust="spacingAndGlyphs" fill="#000">NAME</text>
<text x="1230.76" y="960.50" font-size="13.08" textLength="33.89" lengthAdjust="spacingAndGlyphs" fill="#000">DATE</text>
<text x="1209.56" y="974.20" font-size="13.52" textLength="75.47" lengthAdjust="spacingAndGlyphs" fill="#000">MM/DD/YY</text>
<text x="1056.59" y="994.70" font-size="13.81" textLength="73.21" lengthAdjust="spacingAndGlyphs" fill="#000">DRAWN BY</text>
<text x="1161.27" y="994.70" font-size="13.81" textLength="28.98" lengthAdjust="spacingAndGlyphs" fill="#000">JLW</text>
<text x="1216.61" y="994.70" font-size="16.72" textLength="68.83" lengthAdjust="spacingAndGlyphs" fill="#000">02/27/15</text>
<text x="1053.94" y="1026.80" font-size="13.81" textLength="229.01" lengthAdjust="spacingAndGlyphs" font-weight="bold" fill="#000">PROPRIETARY AND CONFIDENTIAL:</text>
<text x="1054.51" y="1041.00" font-size="13.81" textLength="227.78" lengthAdjust="spacingAndGlyphs" fill="#000">THE CONTENT OF THIS DRAWING IS</text>
<text x="1054.52" y="1055.50" font-size="13.81" textLength="130.21" lengthAdjust="spacingAndGlyphs" fill="#000">THE PROPERTY OF A</text>
<text x="1053.72" y="1070.50" font-size="13.81" textLength="203.60" lengthAdjust="spacingAndGlyphs" fill="#000">MANUFACTURER FOR INTEGRA</text>
<text x="1054.50" y="1085.50" font-size="13.81" textLength="128.10" lengthAdjust="spacingAndGlyphs" fill="#000">YORK PA, INC. ANY</text>
<text x="1053.74" y="1100.50" font-size="13.81" textLength="228.39" lengthAdjust="spacingAndGlyphs" fill="#000">REPRODUCTION OF THIS MATERIAL</text>
<text x="1053.69" y="1114.70" font-size="13.81" textLength="217.31" lengthAdjust="spacingAndGlyphs" fill="#000">BY ANY MEANS, IN WHOLE OR IN</text>
<text x="1053.79" y="1129.70" font-size="13.81" textLength="185.52" lengthAdjust="spacingAndGlyphs" fill="#000">PART, WITHOUT THE WRITTEN</text>
<text x="1054.13" y="1144.70" font-size="13.81" textLength="216.17" lengthAdjust="spacingAndGlyphs" fill="#000">CONSENT OF INTEGRA YORK PA,</text>
<text x="1053.56" y="1159.70" font-size="13.81" textLength="192.46" lengthAdjust="spacingAndGlyphs" fill="#000">INC. AND MANUFACTURER IS</text>
<text x="1053.75" y="1174.70" font-size="13.81" textLength="81.61" lengthAdjust="spacingAndGlyphs" fill="#000">PROHIBITED.</text>
<text x="1296.50" y="985.80" font-size="24.42" textLength="101.14" lengthAdjust="spacingAndGlyphs" fill="#000">INTEGRA</text>
<text x="1428.14" y="966.70" font-size="11.63" textLength="87.10" lengthAdjust="spacingAndGlyphs" fill="#000">589 DAVIES DR.</text>
<text x="1428.35" y="980.90" font-size="11.63" textLength="89.43" lengthAdjust="spacingAndGlyphs" fill="#000">YORK, PA 17402</text>
<text x="1427.62" y="995.50" font-size="11.63" textLength="116.34" lengthAdjust="spacingAndGlyphs" fill="#000">PHN. 1-800-645-8000</text>
<text x="1300.45" y="1021.70" font-size="13.08" textLength="32.95" lengthAdjust="spacingAndGlyphs" fill="#000">TITLE:</text>
<text x="1322.23" y="1042.80" font-size="19.77" textLength="192.97" lengthAdjust="spacingAndGlyphs" fill="#000">BUZZ LITE NON-STICK</text>
<text x="1331.47" y="1066.60" font-size="20.35" textLength="175.78" lengthAdjust="spacingAndGlyphs" fill="#000">BIPOLAR FORCEPS</text>
<text x="1309.95" y="1090.70" font-size="20.64" textLength="224.39" lengthAdjust="spacingAndGlyphs" fill="#000">7-1/2” BAYONET 1.3mm</text>
<text x="1299.71" y="1122.70" font-size="12.06" textLength="90.70" lengthAdjust="spacingAndGlyphs" fill="#000">PART/DWG. No.</text>
<text x="1377.75" y="1144.00" font-size="20.93" textLength="88.89" lengthAdjust="spacingAndGlyphs" fill="#000">N10BL13</text>
<text x="1300.78" y="1163.70" font-size="11.92" textLength="20.52" lengthAdjust="spacingAndGlyphs" fill="#000">SIZE</text>
<text x="1303.81" y="1184.60" font-size="21.51" textLength="17.22" lengthAdjust="spacingAndGlyphs" font-weight="bold" fill="#000">A</text>
<text x="1354.83" y="1178.80" font-size="14.24" textLength="73.65" lengthAdjust="spacingAndGlyphs" fill="#000">SCALE: NTS</text>
<text x="1453.64" y="1178.80" font-size="14.24" textLength="82.47" lengthAdjust="spacingAndGlyphs" fill="#000">SHEET 1 OF 1</text>
</svg>
</body></html>
